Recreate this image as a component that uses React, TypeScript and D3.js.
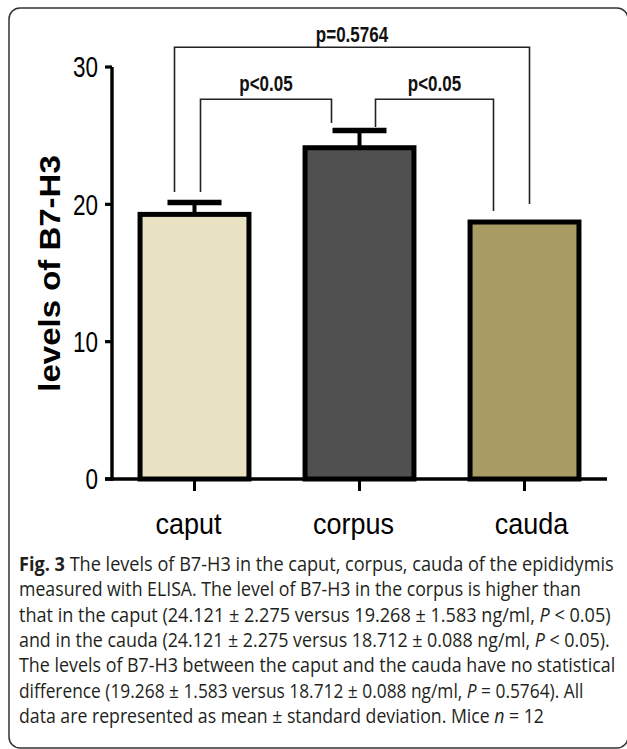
import React, { useLayoutEffect, useRef, useState } from 'react';
import * as d3 from 'd3';

const categories = ['caput', 'corpus', 'cauda'];
const means = [19.268, 24.121, 18.712];
const errors = [0.86, 1.26, 0.05];
const fills = ['#E9E3C4', '#505050', '#A89C64'];
const yTicks = [0, 10, 20, 30];

// significance brackets: from/to category index, label, top level and leg ends (data units)
const bracketFrom = [0, 0, 1];
const bracketTo = [2, 1, 2];
const bracketLabels = ['p=0.5764', 'p<0.05', 'p<0.05'];
const bracketTops = [31.44, 27.65, 27.65];
const bracketLeftEnds = [20.9, 20.9, 25.63];
const bracketRightEnds = [20.02, 25.92, 19.51];

const captionLines: { t: string; b?: boolean; i?: boolean }[][] = [
  [{ t: 'Fig. 3', b: true }, { t: ' The levels of B7-H3 in the caput, corpus, cauda of the epididymis' }],
  [{ t: 'measured with ELISA. The level of B7-H3 in the corpus is higher than' }],
  [{ t: 'that in the caput (24.121 ± 2.275 versus 19.268 ± 1.583 ng/ml, ' }, { t: 'P', i: true }, { t: ' < 0.05)' }],
  [{ t: 'and in the cauda (24.121 ± 2.275 versus 18.712 ± 0.088 ng/ml, ' }, { t: 'P', i: true }, { t: ' < 0.05).' }],
  [{ t: 'The levels of B7-H3 between the caput and the cauda have no statistical' }],
  [{ t: 'difference (19.268 ± 1.583 versus 18.712 ± 0.088 ng/ml, ' }, { t: 'P', i: true }, { t: ' = 0.5764). All' }],
  [{ t: 'data are represented as mean ± standard deviation. Mice ' }, { t: 'n', i: true }, { t: ' = 12' }],
];
const captionWidths = [595, 562, 592, 591, 597, 565, 525];

// layout
const W = 627;
const H = 749;
const axisLeft = 112;
const axisRight = 607;
const yBottom = 479;
const yTop = 67;
const bracketDx = [[-20, 5], [6, -28], [16, -31]];
const bracketLabelGap = [5, 8, 8];
const labelDx = [-6, -6, 7];
const capX = 19;

export default function App() {
  const x = d3.scaleBand<string>().domain(categories).range([axisLeft, axisRight]).paddingInner(0.34).paddingOuter(0.17);
  const y = d3.scaleLinear().domain([0, 30]).range([yBottom, yTop]);
  const bw = x.bandwidth();
  const cx = (i: number) => (x(categories[i]) as number) + bw / 2;
  const chartFont = "'Liberation Sans', Arial, sans-serif";

  const capRefs = useRef<(SVGTextElement | null)[]>([]);
  const [capScale, setCapScale] = useState<number[] | null>(null);
  useLayoutEffect(() => {
    const s = captionLines.map((_, i) => {
      const el = capRefs.current[i];
      if (!el) return 1;
      const w = el.getComputedTextLength();
      return w > 0 ? captionWidths[i] / w : 1;
    });
    setCapScale(s);
  }, []);

  return (
    <svg width={W} height={H} style={{ position: 'absolute', left: 0, top: 0, background: '#fff' }}>
      <rect x={9} y={8} width={619} height={740} rx={11} ry={11} fill="none" stroke="#333" strokeWidth={1.5} />

      {/* brackets */}
      {bracketLabels.map((lab, k) => {
        const x1 = cx(bracketFrom[k]) + bracketDx[k][0];
        const x2 = cx(bracketTo[k]) + bracketDx[k][1];
        const yt = y(bracketTops[k]);
        const path = d3.path();
        path.moveTo(x1, y(bracketLeftEnds[k]));
        path.lineTo(x1, yt);
        path.lineTo(x2, yt);
        path.lineTo(x2, y(bracketRightEnds[k]));
        return (
          <g key={k}>
            <path d={path.toString()} fill="none" stroke="#222" strokeWidth={1.6} />
            <text
              transform={`translate(${(x1 + x2) / 2},${yt - bracketLabelGap[k]}) scale(1,1.3)`}
              textAnchor="middle"
              fontFamily={chartFont}
              fontWeight="bold"
              fontSize={17}
              fill="#111"
            >
              {lab}
            </text>
          </g>
        );
      })}

      {/* bars */}
      {categories.map((c, i) => (
        <rect
          key={c}
          x={x(c)}
          y={y(means[i])}
          width={bw}
          height={y(0) - y(means[i])}
          fill={fills[i]}
          stroke="#000"
          strokeWidth={5}
        />
      ))}

      {/* error bars */}
      {categories.map((c, i) => (
        <g key={c + 'e'}>
          <line x1={cx(i)} x2={cx(i)} y1={y(means[i])} y2={y(means[i] + errors[i])} stroke="#000" strokeWidth={4} />
          <line
            x1={cx(i) - 27}
            x2={cx(i) + 27}
            y1={y(means[i] + errors[i])}
            y2={y(means[i] + errors[i])}
            stroke="#000"
            strokeWidth={i === 2 ? 1.5 : 5.5}
          />
        </g>
      ))}

      {/* y axis */}
      <line x1={axisLeft} x2={axisLeft} y1={y(0) + 1.7} y2={y(30)} stroke="#000" strokeWidth={3.4} />
      {yTicks.map((t) => (
        <g key={t}>
          <line x1={axisLeft - 7} x2={axisLeft} y1={y(t)} y2={y(t)} stroke="#000" strokeWidth={3.2} />
          <text
            transform={`translate(98,${y(t)}) scale(1,1.27)`}
            dy="0.36em"
            textAnchor="end"
            fontFamily={chartFont}
            fontSize={22.5}
            fill="#000"
          >
            {t}
          </text>
        </g>
      ))}

      {/* x axis */}
      <line x1={axisLeft - 7} x2={axisRight} y1={y(0)} y2={y(0)} stroke="#000" strokeWidth={3.4} />
      {categories.map((c, i) => (
        <g key={c + 't'}>
          <line x1={cx(i)} x2={cx(i)} y1={y(0)} y2={y(0) + 12} stroke="#000" strokeWidth={3} />
          <text
            transform={`translate(${cx(i) + labelDx[i]},534) scale(1,1.1)`}
            textAnchor="middle"
            fontFamily={chartFont}
            fontSize={27}
            fill="#000"
          >
            {c}
          </text>
        </g>
      ))}

      {/* y title */}
      <text
        transform={`translate(59.5,273.5) rotate(-90) scale(1.1,1)`}
        textAnchor="middle"
        fontFamily={chartFont}
        fontWeight="bold"
        fontSize={30}
        fill="#000"
      >
        levels of B7-H3
      </text>

      {/* caption */}
      {captionLines.map((segs, li) => {
        const s = capScale ? capScale[li] : 1;
        return (
          <text
            key={li}
            ref={(el) => {
              capRefs.current[li] = el;
            }}
            transform={`translate(${capX},${571 + li * 25.3}) scale(${s},1)`}
            fontFamily="'Open Sans', 'Noto Sans', sans-serif"
            fontSize={19.5}
            fill="#231f20"
          >
            {segs.map((sg, si) => (
              <tspan key={si} fontWeight={sg.b ? 'bold' : 'normal'} fontStyle={sg.i ? 'italic' : 'normal'}>
                {sg.t}
              </tspan>
            ))}
          </text>
        );
      })}
    </svg>
  );
}
